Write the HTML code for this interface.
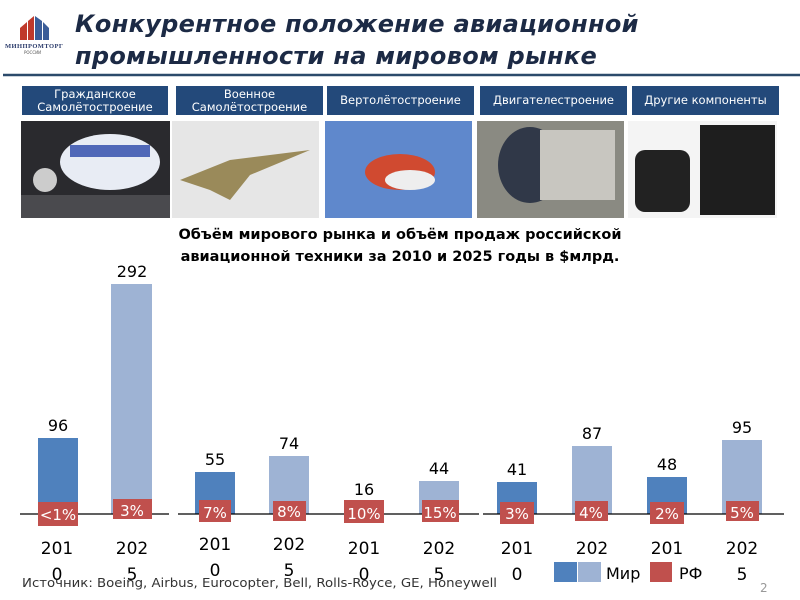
<!DOCTYPE html>
<html><head><meta charset="utf-8"><style>
body{margin:0;width:800px;height:600px;background:#fff;position:relative;overflow:hidden;font-family:"DejaVu Sans","Liberation Sans",sans-serif}
.a{position:absolute}
.tab{position:absolute;top:86px;height:29px;background:#23497a;color:#fff;font-size:11.5px;text-align:center;line-height:13px;display:flex;align-items:center;justify-content:center}
</style></head><body>
<svg class="a" style="left:0;top:0" width="800" height="600">
<!-- logo -->
<polygon points="20,28 27,22 27,40 20,40" fill="#c0392b"/><polygon points="28,21 34,16 34,40 28,40" fill="#c0392b"/>
<polygon points="35,16 42,21 42,40 35,40" fill="#3b5d99"/><polygon points="43,22 49,28 49,40 43,40" fill="#3b5d99"/>
<text x="5" y="48" font-size="6.5" font-weight="bold" fill="#2b3b6b" font-family="Liberation Serif,serif" textLength="58">МИНПРОМТОРГ</text>
<text x="24" y="54" font-size="4" fill="#555">РОССИИ</text>
<line x1="3" y1="75" x2="800" y2="75" stroke="#2b4a6b" stroke-width="2.5"/>
<!-- images -->
<rect x="21" y="121" width="149" height="97" fill="#2a2a2e"/>
<rect x="21" y="195" width="149" height="23" fill="#4a4a4e"/>
<ellipse cx="110" cy="162" rx="50" ry="28" fill="#e8ecf4"/><rect x="70" y="145" width="80" height="12" fill="#5068b8"/>
<circle cx="45" cy="180" r="12" fill="#ccc"/>
<rect x="172" y="121" width="147" height="97" fill="#e6e6e6"/>
<polygon points="180,180 230,160 310,150 250,175 230,200 210,190" fill="#9a8a5a"/>
<rect x="325" y="121" width="147" height="97" fill="#5f88cc"/>
<ellipse cx="400" cy="172" rx="35" ry="18" fill="#d04a30"/><ellipse cx="410" cy="180" rx="25" ry="10" fill="#eee"/>
<rect x="477" y="121" width="147" height="97" fill="#8a8a82"/>
<ellipse cx="530" cy="165" rx="32" ry="38" fill="#303848"/><rect x="540" y="130" width="75" height="70" fill="#c8c6c0"/>
<rect x="628" y="121" width="149" height="97" fill="#f4f4f4"/>
<rect x="635" y="150" width="55" height="62" rx="10" fill="#222"/><rect x="700" y="125" width="75" height="90" fill="#1e1e1e"/>
</svg>
<div class="a" style="left:75px;top:8px;font-size:24px;font-weight:bold;font-style:italic;color:#1c2a45;line-height:32px;letter-spacing:0.3px">Конкурентное положение авиационной<br>промышленности на мировом рынке</div>
<div class="tab" style="left:22px;width:146px">Гражданское<br>Самолётостроение</div>
<div class="tab" style="left:176px;width:147px">Военное<br>Самолётостроение</div>
<div class="tab" style="left:327px;width:147px">Вертолётостроение</div>
<div class="tab" style="left:480px;width:147px">Двигателестроение</div>
<div class="tab" style="left:632px;width:147px">Другие компоненты</div>
<div class="a" style="left:0;width:800px;top:224px;text-align:center;font-size:14.5px;font-weight:bold;line-height:22px">Объём мирового рынка и объём продаж российской<br>авиационной техники за 2010 и 2025 годы в $млрд.</div>
<svg class="a" style="left:0;top:0" width="800" height="600" font-family="DejaVu Sans,sans-serif">
<g fill="#4f81bd">
<rect x="38" y="438" width="40" height="76"/><rect x="195" y="472" width="40" height="42"/><rect x="344" y="502" width="40" height="12"/><rect x="497" y="482" width="40" height="32"/><rect x="647" y="477" width="40" height="37"/></g>
<g fill="#9eb3d4">
<rect x="111" y="284" width="41" height="230"/><rect x="269" y="456" width="40" height="58"/><rect x="419" y="481" width="40" height="33"/><rect x="572" y="446" width="40" height="68"/><rect x="722" y="440" width="40" height="74"/></g>
<g stroke="#000" stroke-width="1.2"><line x1="20" y1="514" x2="169" y2="514"/><line x1="178" y1="514" x2="479" y2="514"/><line x1="483" y1="514" x2="784" y2="514"/></g>
<g fill="#c0504d">
<rect x="38" y="502" width="40" height="24"/><rect x="113" y="499" width="39" height="20"/><rect x="199" y="500" width="32" height="22"/><rect x="273" y="501" width="33" height="20"/><rect x="344" y="500" width="40" height="23"/><rect x="422" y="500" width="37" height="22"/><rect x="500" y="502" width="34" height="22"/><rect x="575" y="501" width="33" height="20"/><rect x="650" y="502" width="34" height="22"/><rect x="726" y="501" width="33" height="20"/></g>
<g fill="#fff" font-size="15" text-anchor="middle">
<text x="58" y="520">&lt;1%</text><text x="132" y="516">3%</text><text x="215" y="518">7%</text><text x="289" y="517">8%</text><text x="364" y="519">10%</text><text x="440" y="518">15%</text><text x="517" y="519">3%</text><text x="591" y="518">4%</text><text x="667" y="519">2%</text><text x="742" y="518">5%</text></g>
<g font-size="16" text-anchor="middle" fill="#000">
<text x="58" y="431">96</text><text x="132" y="277">292</text><text x="215" y="465">55</text><text x="289" y="449">74</text><text x="364" y="495">16</text><text x="439" y="474">44</text><text x="517" y="475">41</text><text x="592" y="439">87</text><text x="667" y="470">48</text><text x="742" y="433">95</text></g>
<g font-size="17" text-anchor="middle" fill="#000">
<text x="57" y="554">201</text><text x="57" y="580">0</text><text x="132" y="554">202</text><text x="132" y="580">5</text>
<text x="215" y="550">201</text><text x="215" y="576">0</text><text x="289" y="550">202</text><text x="289" y="576">5</text>
<text x="364" y="554">201</text><text x="364" y="580">0</text><text x="439" y="554">202</text><text x="439" y="580">5</text>
<text x="517" y="554">201</text><text x="517" y="580">0</text><text x="592" y="554">202</text><text x="592" y="580">5</text>
<text x="667" y="554">201</text><text x="667" y="580">0</text><text x="742" y="554">202</text><text x="742" y="580">5</text></g>
<rect x="554" y="562" width="23" height="20" fill="#4f81bd"/><rect x="578" y="562" width="23" height="20" fill="#9eb3d4"/>
<text x="606" y="579" font-size="16">Мир</text>
<rect x="650" y="562" width="22" height="20" fill="#c0504d"/>
<text x="679" y="579" font-size="16">РФ</text>
<text x="22" y="587" font-size="12" fill="#333" textLength="475" lengthAdjust="spacingAndGlyphs">Источник: Boeing, Airbus, Eurocopter, Bell, Rolls-Royce, GE, Honeywell</text>
<text x="760" y="592" font-size="12" fill="#999">2</text>
</svg>
</body></html>
